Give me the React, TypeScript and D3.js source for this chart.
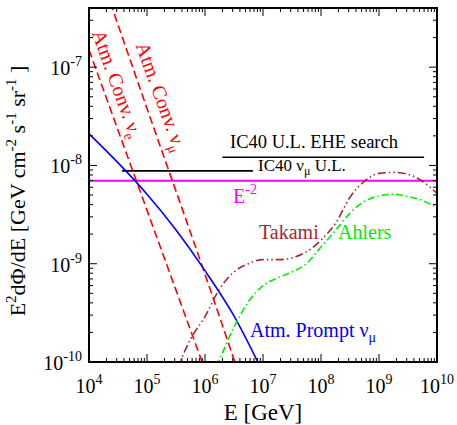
import React from 'react';
import * as d3 from 'd3';

// plot frame
const W = 457;
const H = 425;
const margin = { top: 8, right: 20, bottom: 63, left: 89 };

const xDomain = [1e4, 1e10];
const yDomain = [1e-10, 4e-7];

// Atm. Conv. nu_e (E [GeV], E^2 dPhi/dE)
const convNueE = [1e4, 1e5, 1e6];
const convNueF = [1.5e-7, 3.5e-9, 8.3e-11];

// Atm. Conv. nu_mu
const convNumuE = [2e4, 1e5, 1e6, 1e7];
const convNumuF = [5.9e-7, 3.8e-8, 7.8e-10, 1.4e-11];

// Atm. Prompt nu_mu
const promptE = [1e4, 3e4, 1e5, 3e5, 1e6, 3e6, 1e7];
const promptF = [2.1e-8, 1.1e-8, 5.1e-9, 2.3e-9, 8.5e-10, 3.1e-10, 7.8e-11];

// Takami
const takamiE = [3.2e5, 5.6e5, 1e6, 1.8e6, 3.2e6, 5.6e6, 1e7, 1.8e7, 3.2e7, 5.6e7, 1e8, 1.8e8, 3.2e8, 5.6e8, 1e9, 1.8e9, 3.2e9, 5.6e9, 1e10];
const takamiF = [8.1e-11, 1.7e-10, 2.9e-10, 5.6e-10, 8.3e-10, 1.0e-9, 1.1e-9, 1.1e-9, 1.15e-9, 1.32e-9, 1.74e-9, 2.6e-9, 4.8e-9, 6.9e-9, 8.3e-9, 8.5e-9, 8.1e-9, 6.9e-9, 5.2e-9];

// Ahlers
const ahlersE = [1.26e6, 1.8e6, 3.2e6, 5.6e6, 1e7, 1.8e7, 3.2e7, 5.6e7, 1e8, 1.8e8, 3.2e8, 5.6e8, 1e9, 1.8e9, 3.2e9, 5.6e9, 1e10];
const ahlersF = [6.6e-11, 1.07e-10, 2.3e-10, 4.1e-10, 6.0e-10, 7.2e-10, 8.3e-10, 1.0e-9, 1.48e-9, 2.2e-9, 3.3e-9, 4.3e-9, 4.9e-9, 5.1e-9, 4.8e-9, 4.4e-9, 3.7e-9];

// upper limits and E^-2 reference
const ic40NumuE = [3.7e4, 6.7e6];
const ic40NumuF = 8.8e-9;
const ic40EheE = [2e6, 6e9];
const ic40EheF = 1.21e-8;
const eMinus2E = [1e4, 1e10];
const eMinus2F = 7.0e-9;

const xTickExp = [4, 5, 6, 7, 8, 9, 10];
const yTickExp = [-10, -9, -8, -7];

const FONT = '"Liberation Serif", "Times New Roman", "DejaVu Serif", serif';

const zip = (a: number[], b: number[]) => a.map((v, i) => [v, b[i]] as [number, number]);

export default function App() {
  const x = d3.scaleLog().domain(xDomain).range([margin.left, W - margin.right]);
  const y = d3.scaleLog().domain(yDomain).range([H - margin.bottom, margin.top]);
  const x0 = margin.left, x1 = W - margin.right, y0 = H - margin.bottom, y1 = margin.top;

  const line = d3.line<[number, number]>()
    .x(d => x(d[0]))
    .y(d => y(d[1]))
    .curve(d3.curveMonotoneX);

  const isMajor = (v: number) => Math.abs(Math.log10(v) - Math.round(Math.log10(v))) < 1e-6;
  const xTicks = x.ticks();
  const yTicks = y.ticks();

  return (
    <svg width={W} height={H} style={{ position: 'absolute', left: 0, top: 0, fontFamily: FONT }}>
      <defs>
        <clipPath id="plot">
          <rect x={x0} y={y1} width={x1 - x0} height={y0 - y1} />
        </clipPath>
      </defs>
      <rect width={W} height={H} fill="#fff" />

      <g clipPath="url(#plot)" fill="none">
        <path d={line(zip(eMinus2E, [eMinus2F, eMinus2F])) || ''} stroke="#ff00ff" strokeWidth={2} />
        <path d={line(zip(ic40NumuE, [ic40NumuF, ic40NumuF])) || ''} stroke="#000" strokeWidth={1.6} />
        <path d={line(zip(ic40EheE, [ic40EheF, ic40EheF])) || ''} stroke="#000" strokeWidth={1.6} />
        <path d={line(zip(convNueE, convNueF)) || ''} stroke="#ff0000" strokeWidth={1.6} strokeDasharray="8,4" />
        <path d={line(zip(convNumuE, convNumuF)) || ''} stroke="#ff0000" strokeWidth={1.6} strokeDasharray="8,4" />
        <path d={line(zip(promptE, promptF)) || ''} stroke="#0000ff" strokeWidth={1.6} />
        <path d={line(zip(takamiE, takamiF)) || ''} stroke="#a52a2a" strokeWidth={1.6} strokeDasharray="8,3,1.5,3,1.5,3" />
        <path d={line(zip(ahlersE, ahlersF)) || ''} stroke="#00ee00" strokeWidth={1.6} strokeDasharray="7,3,1.5,3" />
      </g>

      {/* ticks on all four sides, pointing in */}
      <g stroke="#000" strokeWidth={1}>
        {xTicks.map((v, i) => {
          const len = isMajor(v) ? 8 : 4;
          return (
            <g key={'xt' + i}>
              <line x1={x(v)} x2={x(v)} y1={y0} y2={y0 - len} />
              <line x1={x(v)} x2={x(v)} y1={y1} y2={y1 + len} />
            </g>
          );
        })}
        {yTicks.map((v, i) => {
          const len = isMajor(v) ? 8 : 4;
          return (
            <g key={'yt' + i}>
              <line x1={x0} x2={x0 + len} y1={y(v)} y2={y(v)} />
              <line x1={x1} x2={x1 - len} y1={y(v)} y2={y(v)} />
            </g>
          );
        })}
      </g>
      <rect x={x0} y={y1} width={x1 - x0} height={y0 - y1} fill="none" stroke="#000" strokeWidth={2} />

      {/* tick labels */}
      <g fontSize={20} fill="#000">
        {xTickExp.map(e => (
          <text key={'xl' + e} x={x(Math.pow(10, e))} y={y0 + 31} textAnchor="middle">
            10<tspan dy={-9} fontSize={14}>{e}</tspan>
          </text>
        ))}
        {yTickExp.map(e => (
          <text key={'yl' + e} x={x0 - 7} y={y(Math.pow(10, e)) + 8} textAnchor="end">
            10<tspan dy={-9} fontSize={14}>{e}</tspan>
          </text>
        ))}
      </g>

      {/* axis titles */}
      <text x={(x0 + x1) / 2} y={420} textAnchor="middle" fontSize={23}>E [GeV]</text>
      <text transform="translate(25,191) rotate(-90)" textAnchor="middle" fontSize={22}>
        E<tspan dy={-9} fontSize={15}>2</tspan><tspan dy={9}>dΦ/dE [GeV cm</tspan>
        <tspan dy={-9} fontSize={15}>-2</tspan><tspan dy={9}> s</tspan>
        <tspan dy={-9} fontSize={15}>-1</tspan><tspan dy={9}> sr</tspan>
        <tspan dy={-9} fontSize={15}>-1</tspan><tspan dy={9}> ]</tspan>
      </text>

      {/* curve labels */}
      <text transform="translate(111,86) rotate(70)" textAnchor="middle" fontSize={20} fill="#ff0000">
        Atm. Conv. ν<tspan dy={5} fontSize={14}>e</tspan>
      </text>
      <text transform="translate(155,99) rotate(70)" textAnchor="middle" fontSize={20} fill="#ff0000">
        Atm. Conv. ν<tspan dy={5} fontSize={14}>μ</tspan>
      </text>
      <text x={230} y={148} fontSize={18.5}>IC40 U.L. EHE search</text>
      <text x={258} y={171} fontSize={17}>
        IC40 ν<tspan dy={4} fontSize={12}>μ</tspan><tspan dy={-4}> U.L.</tspan>
      </text>
      <text x={233} y={203} fontSize={20} fill="#ff00ff">
        E<tspan dy={-9} fontSize={14}>-2</tspan>
      </text>
      <text x={259} y={239} fontSize={20} fill="#a52a2a">Takami</text>
      <text x={338} y={239} fontSize={20} fill="#00ee00">Ahlers</text>
      <text x={250} y={337} fontSize={20} fill="#0000ff">
        Atm. Prompt ν<tspan dy={5} fontSize={14}>μ</tspan>
      </text>
    </svg>
  );
}
